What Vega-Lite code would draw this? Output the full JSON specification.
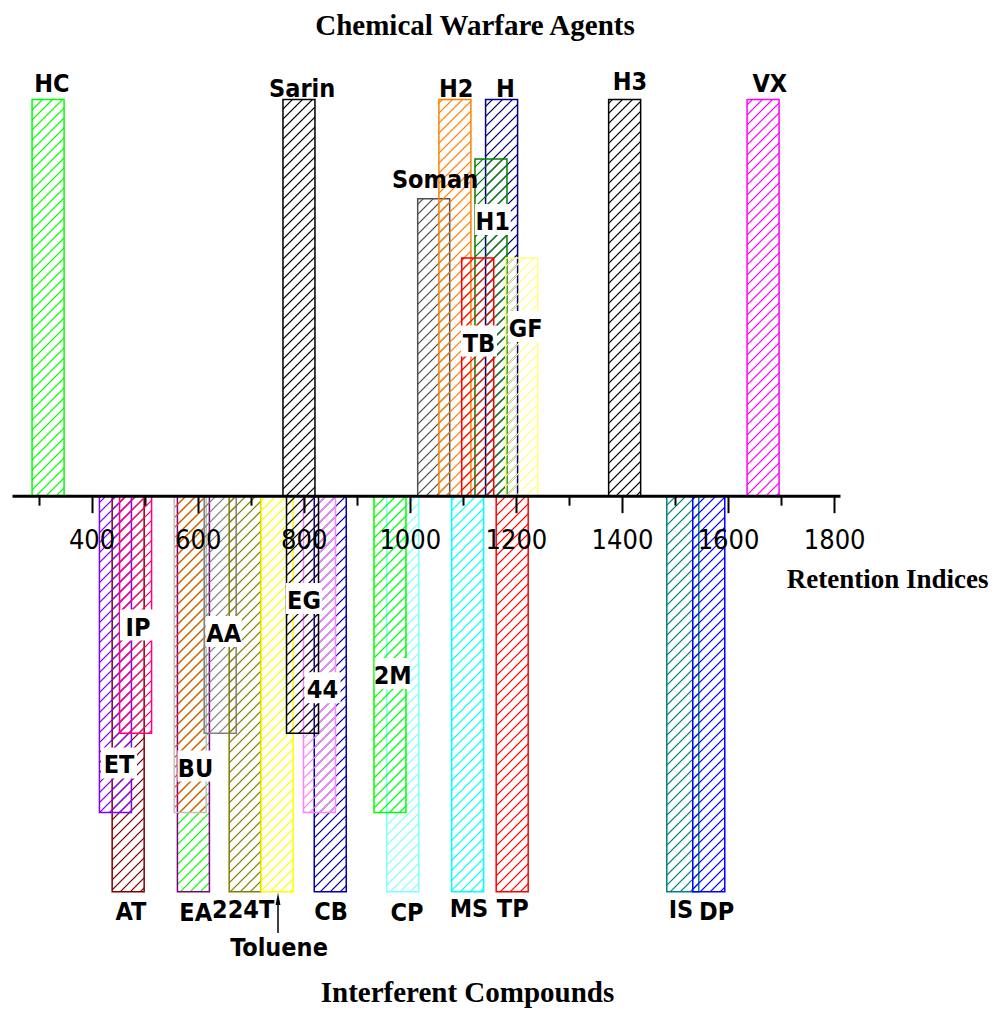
{
  "$schema": "https://vega.github.io/schema/vega-lite/v6.json",
  "width": 828,
  "height": 911,
  "autosize": "none",
  "padding": {"left": 12, "top": 60, "right": 155, "bottom": 44},
  "background": "white",
  "title": {"text": "Chemical Warfare Agents", "font": "Liberation Serif", "fontSize": 29, "fontWeight": "bold", "color": "black", "anchor": "middle", "frame": "group", "dx": 49, "dy": 30, "baseline": "alphabetic", "offset": 26},
  "params": [
    {"name": "C1", "value": {"HC": "rgba(0,255,0,1)", "Sarin": "rgba(0,0,0,1)", "Soman": "rgba(80,80,80,1)", "H2": "rgba(255,128,0,1)", "H": "rgba(0,0,128,1)", "H1": "rgba(0,128,0,1)", "TB": "rgba(255,0,0,1)", "GF": "rgba(255,255,128,1)", "H3": "rgba(0,0,0,1)", "VX": "rgba(255,0,255,1)", "AT": "rgba(128,0,0,1)", "ET": "rgba(128,0,255,1)", "IP": "rgba(255,0,128,1)", "EA": "rgba(0,255,0,1)", "BU": "rgba(255,64,0,1)", "AA": "rgba(128,128,128,1)", "224T": "rgba(128,128,0,1)", "Toluene": "rgba(255,255,0,1)", "CB": "rgba(0,0,160,1)", "44": "rgba(255,128,255,1)", "EG": "rgba(0,0,0,1)", "CP": "rgba(128,255,255,1)", "2M": "rgba(0,255,0,1)", "MS": "rgba(0,255,255,1)", "TP": "rgba(255,0,0,1)", "IS": "rgba(0,128,128,1)", "DP": "rgba(0,0,255,1)"}},
    {"name": "C0", "value": {"HC": "rgba(0,255,0,0)", "Sarin": "rgba(0,0,0,0)", "Soman": "rgba(80,80,80,0)", "H2": "rgba(255,128,0,0)", "H": "rgba(0,0,128,0)", "H1": "rgba(0,128,0,0)", "TB": "rgba(255,0,0,0)", "GF": "rgba(255,255,128,0)", "H3": "rgba(0,0,0,0)", "VX": "rgba(255,0,255,0)", "AT": "rgba(128,0,0,0)", "ET": "rgba(128,0,255,0)", "IP": "rgba(255,0,128,0)", "EA": "rgba(0,255,0,0)", "BU": "rgba(255,64,0,0)", "AA": "rgba(128,128,128,0)", "224T": "rgba(128,128,0,0)", "Toluene": "rgba(255,255,0,0)", "CB": "rgba(0,0,160,0)", "44": "rgba(255,128,255,0)", "EG": "rgba(0,0,0,0)", "CP": "rgba(128,255,255,0)", "2M": "rgba(0,255,0,0)", "MS": "rgba(0,255,255,0)", "TP": "rgba(255,0,0,0)", "IS": "rgba(0,128,128,0)", "DP": "rgba(0,0,255,0)"}}
  ],
  "datasets": {
    "bars": [
      {"n": "HC", "ri": 318, "y": 1},
      {"n": "Sarin", "ri": 791, "y": 1},
      {"n": "Soman", "ri": 1045, "y": 0.75},
      {"n": "H2", "ri": 1085, "y": 1},
      {"n": "H", "ri": 1173, "y": 1},
      {"n": "H1", "ri": 1153, "y": 0.85},
      {"n": "TB", "ri": 1128, "y": 0.6},
      {"n": "GF", "ri": 1211, "y": 0.6},
      {"n": "H3", "ri": 1405, "y": 1},
      {"n": "VX", "ri": 1666, "y": 1},
      {"n": "AT", "ri": 469, "y": -1},
      {"n": "ET", "ri": 445, "y": -0.8},
      {"n": "IP", "ri": 483, "y": -0.6},
      {"n": "EA", "ri": 592, "y": -1},
      {"n": "BU", "ri": 586, "y": -0.8},
      {"n": "AA", "ri": 642.5, "y": -0.6},
      {"n": "224T", "ri": 689.6, "y": -1},
      {"n": "Toluene", "ri": 750, "y": -1},
      {"n": "CB", "ri": 850, "y": -1},
      {"n": "44", "ri": 829.7, "y": -0.8},
      {"n": "EG", "ri": 797.7, "y": -0.6},
      {"n": "CP", "ri": 986.6, "y": -1},
      {"n": "2M", "ri": 962.6, "y": -0.8},
      {"n": "MS", "ri": 1109, "y": -1},
      {"n": "TP", "ri": 1193, "y": -1},
      {"n": "IS", "ri": 1514.6, "y": -1},
      {"n": "DP", "ri": 1563.6, "y": -1}
    ],
    "lab_out": [
      {"n": "HC", "ri": 325, "y": 1.02},
      {"n": "Sarin", "ri": 797, "y": 1.007},
      {"n": "Soman", "ri": 1047.5, "y": 0.776},
      {"n": "H2", "ri": 1087.4, "y": 1.006},
      {"n": "H", "ri": 1180.4, "y": 1.006},
      {"n": "H3", "ri": 1415, "y": 1.024},
      {"n": "VX", "ri": 1678.6, "y": 1.02},
      {"n": "AT", "ri": 474.3, "y": -1.071},
      {"n": "EA", "ri": 596.4, "y": -1.075},
      {"n": "224T", "ri": 685.9, "y": -1.066},
      {"n": "CB", "ri": 851.4, "y": -1.071},
      {"n": "CP", "ri": 994.7, "y": -1.075},
      {"n": "MS", "ri": 1111.6, "y": -1.063},
      {"n": "TP", "ri": 1194.1, "y": -1.063},
      {"n": "IS", "ri": 1511.2, "y": -1.066},
      {"n": "DP", "ri": 1578.5, "y": -1.071},
      {"n": "Toluene", "ri": 753.4, "y": -1.162}
    ],
    "lab_in": [
      {"n": "IP", "ri": 487.5, "y": -0.353},
      {"n": "AA", "ri": 649.1, "y": -0.369},
      {"n": "EG", "ri": 800.5, "y": -0.286},
      {"n": "44", "ri": 835.4, "y": -0.511},
      {"n": "ET", "ri": 451.7, "y": -0.701},
      {"n": "BU", "ri": 595.9, "y": -0.709},
      {"n": "2M", "ri": 967.7, "y": -0.475},
      {"n": "H1", "ri": 1156.4, "y": 0.671},
      {"n": "TB", "ri": 1130.4, "y": 0.364},
      {"n": "GF", "ri": 1218.6, "y": 0.401}
    ],
    "arrow": [
      {"ri": 751.5, "y": -1.018, "y2": -1.104}
    ],
    "bottom_title": [
      {"n": "Interferent Compounds", "ri": 1108.7, "y": -1.278}
    ]
  },
  "encoding": {
    "x": {
      "field": "ri", "type": "quantitative",
      "scale": {"domain": [250, 1811], "nice": false, "zero": false, "padding": 0},
      "axis": {
        "title": "Retention Indices",
        "titleFont": "Liberation Serif", "titleFontSize": 27, "titleFontWeight": "bold", "titleColor": "black",
        "titleAlign": "right", "titleAnchor": "end", "titleBaseline": "alphabetic", "titleX": 976, "titleY": 92,
        "offset": -475.33, "zindex": 1,
        "values": [300, 400, 500, 600, 700, 800, 900, 1000, 1100, 1200, 1300, 1400, 1500, 1600, 1700, 1800],
        "labelExpr": "datum.value % 200 == 0 ? datum.label : ''",
        "format": "d",
        "labelFont": "Liberation Sans Narrow, Arial Narrow, DejaVu Sans Condensed, sans-serif",
        "labelFontSize": 27, "labelColor": "black", "labelFlush": false, "labelOverlap": false,
        "labelBaseline": "alphabetic", "labelPadding": 36,
        "domainColor": "black", "domainWidth": 3,
        "tickColor": "black", "tickWidth": 2,
        "tickSize": {"condition": {"test": "datum.value % 200 == 0", "value": 17}, "value": 9.5},
        "grid": false
      }
    },
    "y": {
      "field": "y", "type": "quantitative",
      "scale": {"domain": [-1.2, 1.1], "nice": false, "zero": false, "padding": 0},
      "axis": null
    }
  },
  "layer": [
    {
      "data": {"name": "bars"},
      "mark": {
        "type": "bar", "width": 32, "orient": "vertical", "strokeWidth": 1.5,
        "fill": {"expr": "{gradient:'linear',x1:-((scale('x',datum.ri)-16+min(scale('y',datum.y),scale('y',0)))%10)/32,y1:0,x2:-((scale('x',datum.ri)-16+min(scale('y',datum.y),scale('y',0)))%10)/32+14720/(1024+pow(scale('y',datum.y)-scale('y',0),2)),y2:460*abs(scale('y',datum.y)-scale('y',0))/(1024+pow(scale('y',datum.y)-scale('y',0),2)),stops:[{offset:0,color:C1[datum.n]},{offset:0.0033,color:C0[datum.n]},{offset:0.0184,color:C0[datum.n]},{offset:0.0217,color:C1[datum.n]},{offset:0.0250,color:C0[datum.n]},{offset:0.0402,color:C0[datum.n]},{offset:0.0435,color:C1[datum.n]},{offset:0.0468,color:C0[datum.n]},{offset:0.0619,color:C0[datum.n]},{offset:0.0652,color:C1[datum.n]},{offset:0.0685,color:C0[datum.n]},{offset:0.0837,color:C0[datum.n]},{offset:0.0870,color:C1[datum.n]},{offset:0.0903,color:C0[datum.n]},{offset:0.1054,color:C0[datum.n]},{offset:0.1087,color:C1[datum.n]},{offset:0.1120,color:C0[datum.n]},{offset:0.1271,color:C0[datum.n]},{offset:0.1304,color:C1[datum.n]},{offset:0.1337,color:C0[datum.n]},{offset:0.1489,color:C0[datum.n]},{offset:0.1522,color:C1[datum.n]},{offset:0.1555,color:C0[datum.n]},{offset:0.1706,color:C0[datum.n]},{offset:0.1739,color:C1[datum.n]},{offset:0.1772,color:C0[datum.n]},{offset:0.1924,color:C0[datum.n]},{offset:0.1957,color:C1[datum.n]},{offset:0.1990,color:C0[datum.n]},{offset:0.2141,color:C0[datum.n]},{offset:0.2174,color:C1[datum.n]},{offset:0.2207,color:C0[datum.n]},{offset:0.2358,color:C0[datum.n]},{offset:0.2391,color:C1[datum.n]},{offset:0.2424,color:C0[datum.n]},{offset:0.2576,color:C0[datum.n]},{offset:0.2609,color:C1[datum.n]},{offset:0.2642,color:C0[datum.n]},{offset:0.2793,color:C0[datum.n]},{offset:0.2826,color:C1[datum.n]},{offset:0.2859,color:C0[datum.n]},{offset:0.3010,color:C0[datum.n]},{offset:0.3043,color:C1[datum.n]},{offset:0.3076,color:C0[datum.n]},{offset:0.3228,color:C0[datum.n]},{offset:0.3261,color:C1[datum.n]},{offset:0.3294,color:C0[datum.n]},{offset:0.3445,color:C0[datum.n]},{offset:0.3478,color:C1[datum.n]},{offset:0.3511,color:C0[datum.n]},{offset:0.3663,color:C0[datum.n]},{offset:0.3696,color:C1[datum.n]},{offset:0.3729,color:C0[datum.n]},{offset:0.3880,color:C0[datum.n]},{offset:0.3913,color:C1[datum.n]},{offset:0.3946,color:C0[datum.n]},{offset:0.4097,color:C0[datum.n]},{offset:0.4130,color:C1[datum.n]},{offset:0.4163,color:C0[datum.n]},{offset:0.4315,color:C0[datum.n]},{offset:0.4348,color:C1[datum.n]},{offset:0.4381,color:C0[datum.n]},{offset:0.4532,color:C0[datum.n]},{offset:0.4565,color:C1[datum.n]},{offset:0.4598,color:C0[datum.n]},{offset:0.4750,color:C0[datum.n]},{offset:0.4783,color:C1[datum.n]},{offset:0.4816,color:C0[datum.n]},{offset:0.4967,color:C0[datum.n]},{offset:0.5000,color:C1[datum.n]},{offset:0.5033,color:C0[datum.n]},{offset:0.5184,color:C0[datum.n]},{offset:0.5217,color:C1[datum.n]},{offset:0.5250,color:C0[datum.n]},{offset:0.5402,color:C0[datum.n]},{offset:0.5435,color:C1[datum.n]},{offset:0.5468,color:C0[datum.n]},{offset:0.5619,color:C0[datum.n]},{offset:0.5652,color:C1[datum.n]},{offset:0.5685,color:C0[datum.n]},{offset:0.5837,color:C0[datum.n]},{offset:0.5870,color:C1[datum.n]},{offset:0.5903,color:C0[datum.n]},{offset:0.6054,color:C0[datum.n]},{offset:0.6087,color:C1[datum.n]},{offset:0.6120,color:C0[datum.n]},{offset:0.6271,color:C0[datum.n]},{offset:0.6304,color:C1[datum.n]},{offset:0.6337,color:C0[datum.n]},{offset:0.6489,color:C0[datum.n]},{offset:0.6522,color:C1[datum.n]},{offset:0.6555,color:C0[datum.n]},{offset:0.6706,color:C0[datum.n]},{offset:0.6739,color:C1[datum.n]},{offset:0.6772,color:C0[datum.n]},{offset:0.6924,color:C0[datum.n]},{offset:0.6957,color:C1[datum.n]},{offset:0.6990,color:C0[datum.n]},{offset:0.7141,color:C0[datum.n]},{offset:0.7174,color:C1[datum.n]},{offset:0.7207,color:C0[datum.n]},{offset:0.7358,color:C0[datum.n]},{offset:0.7391,color:C1[datum.n]},{offset:0.7424,color:C0[datum.n]},{offset:0.7576,color:C0[datum.n]},{offset:0.7609,color:C1[datum.n]},{offset:0.7642,color:C0[datum.n]},{offset:0.7793,color:C0[datum.n]},{offset:0.7826,color:C1[datum.n]},{offset:0.7859,color:C0[datum.n]},{offset:0.8010,color:C0[datum.n]},{offset:0.8043,color:C1[datum.n]},{offset:0.8076,color:C0[datum.n]},{offset:0.8228,color:C0[datum.n]},{offset:0.8261,color:C1[datum.n]},{offset:0.8294,color:C0[datum.n]},{offset:0.8445,color:C0[datum.n]},{offset:0.8478,color:C1[datum.n]},{offset:0.8511,color:C0[datum.n]},{offset:0.8663,color:C0[datum.n]},{offset:0.8696,color:C1[datum.n]},{offset:0.8729,color:C0[datum.n]},{offset:0.8880,color:C0[datum.n]},{offset:0.8913,color:C1[datum.n]},{offset:0.8946,color:C0[datum.n]},{offset:0.9097,color:C0[datum.n]},{offset:0.9130,color:C1[datum.n]},{offset:0.9163,color:C0[datum.n]},{offset:0.9315,color:C0[datum.n]},{offset:0.9348,color:C1[datum.n]},{offset:0.9381,color:C0[datum.n]},{offset:0.9532,color:C0[datum.n]},{offset:0.9565,color:C1[datum.n]},{offset:0.9598,color:C0[datum.n]},{offset:0.9750,color:C0[datum.n]},{offset:0.9783,color:C1[datum.n]},{offset:0.9816,color:C0[datum.n]}]}"}
      },
      "encoding": {
        "stroke": {
          "field": "n", "type": "nominal", "legend": null,
          "scale": {
            "domain": ["HC", "Sarin", "Soman", "H2", "H", "H1", "TB", "GF", "H3", "VX", "AT", "ET", "IP", "EA", "BU", "AA", "224T", "Toluene", "CB", "44", "EG", "CP", "2M", "MS", "TP", "IS", "DP"],
            "range": ["#00ff00", "#000000", "#505050", "#ff8000", "#000080", "#008000", "#ff0000", "#ffff80", "#000000", "#ff00ff", "#800000", "#8000ff", "#ff0080", "#800080", "#c0c0c0", "#808080", "#808000", "#ffff00", "#0000a0", "#ff80ff", "#000000", "#80ffff", "#00ff00", "#00ffff", "#ff0000", "#008080", "#0000ff"]
          }
        }
      }
    },
    {
      "data": {"name": "lab_in"},
      "mark": {"type": "point", "shape": "M-1,-1.44H1V0.28H-1Z", "size": 1296, "filled": true, "fill": "white", "opacity": 1, "strokeWidth": 0}
    },
    {
      "data": {"name": "lab_out"},
      "mark": {"type": "text", "font": "Liberation Sans Narrow, Arial Narrow, DejaVu Sans Condensed, sans-serif", "fontSize": 25, "fontWeight": "bold", "baseline": "alphabetic", "align": "center", "fill": "black"},
      "encoding": {"text": {"field": "n"}}
    },
    {
      "data": {"name": "lab_in"},
      "mark": {"type": "text", "font": "Liberation Sans Narrow, Arial Narrow, DejaVu Sans Condensed, sans-serif", "fontSize": 25, "fontWeight": "bold", "baseline": "alphabetic", "align": "center", "fill": "black"},
      "encoding": {"text": {"field": "n"}}
    },
    {
      "data": {"name": "arrow"},
      "mark": {"type": "rule", "color": "black", "strokeWidth": 1.5},
      "encoding": {"y2": {"field": "y2"}}
    },
    {
      "data": {"name": "arrow"},
      "mark": {"type": "point", "shape": "M0,-1L0.4,1L-0.4,1Z", "size": 150, "filled": true, "fill": "black", "opacity": 1, "strokeWidth": 0}
    },
    {
      "data": {"name": "bottom_title"},
      "mark": {"type": "text", "font": "Liberation Serif", "fontSize": 29, "fontWeight": "bold", "baseline": "alphabetic", "align": "center", "fill": "black"},
      "encoding": {"text": {"field": "n"}}
    }
  ],
  "config": {"view": {"stroke": null}}
}
